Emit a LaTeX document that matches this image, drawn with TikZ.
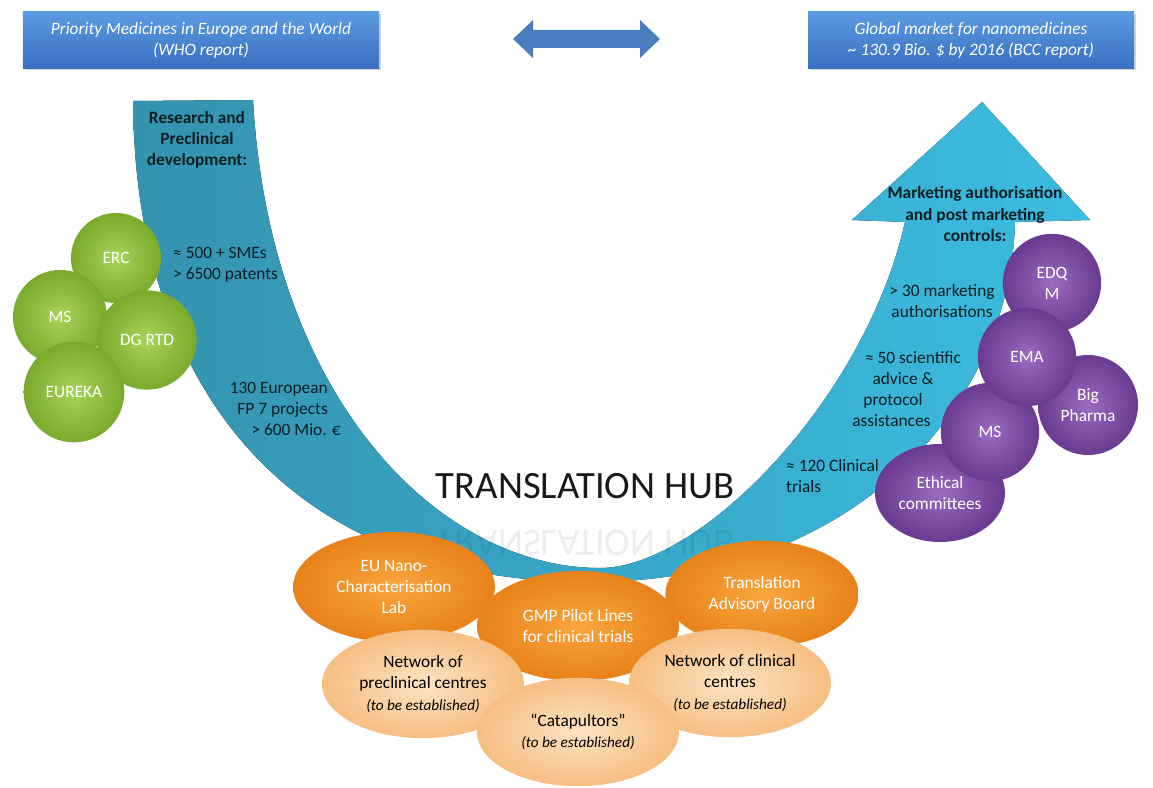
\documentclass[tikz,border=0pt]{standalone}
\usepackage{fontspec}
\setmainfont{Carlito}
\usetikzlibrary{shapes.geometric,shadows}

\definecolor{bandL}{HTML}{3593AF}
\definecolor{bandM}{HTML}{1F7C95}
\definecolor{bandR}{HTML}{3BBCE1}
\definecolor{repTop}{HTML}{5B9BE0}
\definecolor{repBot}{HTML}{3A70C2}
\definecolor{arrowblue}{HTML}{4A7EBF}
\definecolor{grnIn}{HTML}{A8D35A}
\definecolor{grnOut}{HTML}{7AAA2C}
\definecolor{purIn}{HTML}{9A6CC2}
\definecolor{purOut}{HTML}{693A8F}
\definecolor{orIn}{HTML}{F9A53E}
\definecolor{orOut}{HTML}{E8821A}
\definecolor{ltIn}{HTML}{FDE3C2}
\definecolor{ltOut}{HTML}{F6BE82}
\definecolor{inkband}{HTML}{0B1E24}

\newcommand{\hubfont}{\fontsize{14.8}{18}\selectfont}
\newcommand{\estab}{{\fontsize{13}{15.5}\selectfont\itshape (to be established)}}

\tikzset{
  reportbox/.style={rectangle, minimum height=1.68cm, top color=repTop, bottom color=repBot,
    text=white, align=center, font=\hubfont\itshape,
    drop shadow={opacity=0.35, shadow xshift=2pt, shadow yshift=-2pt}},
  bandtext/.style={inner sep=0pt, text=inkband, align=center, font=\hubfont},
  bandhead/.style={bandtext, font=\hubfont\bfseries},
  greenball/.style={circle, inner sep=0pt, inner color=grnIn, outer color=grnOut,
    text=white, align=center, font=\hubfont},
  purpleball/.style={circle, inner sep=0pt, minimum size=2.95cm, inner color=purIn, outer color=purOut,
    text=white, align=center, font=\hubfont},
  hubdark/.style={ellipse, inner sep=0pt, minimum width=6.06cm, minimum height=3.3cm,
    inner color=orIn, outer color=orOut, text=white, align=center, font=\hubfont},
  hublight/.style={ellipse, inner sep=0pt, minimum width=6.06cm, minimum height=3.25cm,
    inner color=ltIn, outer color=ltOut, text=black, align=center, font=\hubfont}
}

\begin{document}
\begin{tikzpicture}[x=0.03cm,y=-0.03cm]
\useasboundingbox (0,0) rectangle (1153,787);

% the two reports and the arrow between them
\node[reportbox, minimum width=10.68cm] (WHO) at (201,40) {Priority Medicines in Europe and the World\\(WHO report)};
\node[reportbox, minimum width=9.78cm] (BCC) at (971,40) {Global market for nanomedicines\\\textasciitilde{} 130.9 Bio. \$ by 2016 (BCC report)};
\fill[arrowblue] (513,39) -- (533,20) -- (533,30) -- (640,30) -- (640,20) -- (660,39)
	-- (640,58) -- (640,48) -- (533,48) -- (533,58) -- cycle;

% the U shaped arrow
\fill[left color=bandL, middle color=bandM, right color=bandR]
	(133,101) .. controls (135,380) and (280,582) .. (590,582)
	.. controls (850,582) and (1010,410) .. (1015,222)
	-- (1090,220) -- (982,102) -- (852,220) -- (905,222)
	.. controls (865,400) and (700,568) .. (600,568)
	.. controls (440,568) and (270,400) .. (253,100) -- cycle;

% texts on the arrow
\node[bandhead] (RD) at (197,140) {Research and\\Preclinical\\development:};
\node[bandtext, align=left, anchor=west] (SME) at (173,265) {≈ 500 + SMEs\\> 6500 patents};
\node[bandtext, align=right, anchor=east] (FP7) at (328,409) {130 European\\FP 7 projects\\> 600 Mio. €\hspace*{-0.39cm}};
\node[bandhead] (MA) at (975,214) {Marketing authorisation\\and post marketing\\controls:};
\node[bandtext] (MAcount) at (942,301) {> 30 marketing\\authorisations};
\node[bandtext] (SA) at (903,389) {≈ 50 scientific\hspace*{-0.6cm}\\advice \&\hspace*{-0.6cm}\\\hspace*{-0.6cm}protocol\\\hspace*{-0.7cm}assistances};
\node[bandtext, align=left, anchor=west] (CT) at (786,476) {≈ 120 Clinical\\trials};

% hub title and its reflection
\node[text=black!90, font=\fontsize{33}{38}\selectfont] (HUB) at (585,486) {TRANSLATION HUB};
\begin{scope}[shift={(585,543)}, yscale=-1]
	\node[transform shape, text=black, opacity=0.07, font=\fontsize{33}{38}\selectfont] (HUBr) {TRANSLATION HUB};
\end{scope}

% research side
\node[greenball, minimum size=2.7cm] (ERC) at (116,258) {ERC};
\node[greenball, minimum size=2.82cm] (MSa) at (60,317) {MS};
\node[greenball, minimum size=2.98cm] (DGRTD) at (147,340) {DG RTD};
\node[greenball, minimum size=3.02cm] (EUREKA) at (74,392) {EUREKA};

% market side
\node[purpleball, ellipse, minimum width=3.9cm, minimum height=2.94cm] (EC) at (940,493) {Ethical\\committees};
\node[purpleball, minimum size=3cm] (BP) at (1088,405) {Big\\Pharma};
\node[purpleball] (MSb) at (990,432) {MS};
\node[purpleball] (EDQM) at (1052,283) {EDQ\\M};
\node[purpleball] (EMA) at (1027,357) {EMA};

% the hub itself
\node[hubdark] (NanoLab) at (394,587) {EU Nano-\\Characterisation\\Lab};
\node[hubdark, minimum width=5.8cm, minimum height=3.2cm] (TAB) at (762,594) {Translation\\Advisory Board};
\node[hubdark] (GMP) at (578,626) {GMP Pilot Lines\\for clinical trials};
\node[hublight] (NetPre) at (423,684) {Network of\\preclinical centres\\\estab};
\node[hublight] (NetCli) at (730,683) {Network of clinical\\centres\\\estab};
\node[hublight] (Cat) at (578,732) {“Catapultors”\\\estab};
\end{tikzpicture}
\end{document}
